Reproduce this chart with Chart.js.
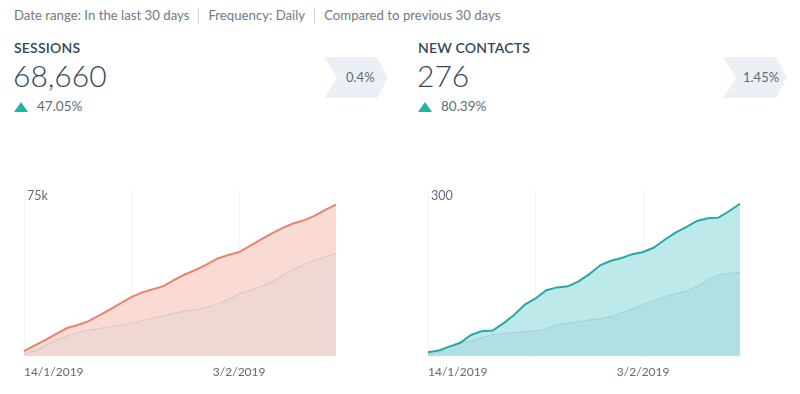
<!DOCTYPE html>
<html>
<head>
<meta charset="utf-8">
<script src="https://cdn.jsdelivr.net/npm/chart.js@4.4.1/dist/chart.umd.min.js"></script>
<style>
    html, body { margin: 0; padding: 0; background: #fff; }
    body { width: 800px; height: 394px; position: relative; overflow: hidden; font-family: Lato, "Open Sans", sans-serif; }
    .filters { position: absolute; left: 14px; top: 7px; font-size: 13.2px; color: #6f7b87; white-space: nowrap; }
    .filters .sep { display: inline-block; width: 1px; height: 16px; background: #cbd6e2; vertical-align: -4px; margin: 0 9px; }
    .title { position: absolute; font-size: 14px; font-weight: 600; color: #33475b; letter-spacing: 0.2px; }
    .big { position: absolute; font-size: 30px; font-weight: 300; color: #33475b; }
    .up { position: absolute; width: 0; height: 0; border-left: 7px solid transparent; border-right: 7px solid transparent; border-bottom: 10px solid #1eb6a0; }
    .pct { position: absolute; font-size: 13.5px; color: #5f6b77; }
    .chev { position: absolute; height: 41px; background: #eaf0f6; font-size: 13px; color: #5f6b77;
            clip-path: polygon(0 0, 53px 0, 64px 50%, 53px 100%, 0 100%, 13px 50%); }
    .chev span { position: absolute; top: 12px; }
    .chartbox { position: absolute; width: 400px; height: 207px; }
</style>
</head>
<body>

<div class="filters">Date range: In the last 30 days<span class="sep"></span>Frequency: Daily<span class="sep"></span>Compared to previous 30 days</div>

<div class="title" style="left:14px; top:39px;">SESSIONS</div>
<div class="big" style="left:13px; top:57px;">68,660</div>
<div class="up" style="left:14px; top:102px;"></div>
<div class="pct" style="left:37px; top:98px;">47.05%</div>
<div class="chev" style="left:324px; top:57px; width:64px;"><span style="left:22px;">0.4%</span></div>

<div class="title" style="left:418px; top:39px;">NEW CONTACTS</div>
<div class="big" style="left:417px; top:57px;">276</div>
<div class="up" style="left:418px; top:102px;"></div>
<div class="pct" style="left:441px; top:98px;">80.39%</div>
<div class="chev" style="left:723px; top:57px; width:77px;"><span style="left:20px;">1.45%</span></div>

<div class="chartbox" style="left:0; top:180px;"><canvas id="sessionsChart"></canvas></div>
<div class="chartbox" style="left:404px; top:180px;"><canvas id="contactsChart"></canvas></div>

<script>
// ---------------- DATA ----------------
const days = [
    "14/1/2019", "15/1/2019", "16/1/2019", "17/1/2019", "18/1/2019", "19/1/2019",
    "20/1/2019", "21/1/2019", "22/1/2019", "23/1/2019", "24/1/2019", "25/1/2019",
    "26/1/2019", "27/1/2019", "28/1/2019", "29/1/2019", "30/1/2019", "31/1/2019",
    "1/2/2019", "2/2/2019", "3/2/2019", "4/2/2019", "5/2/2019", "6/2/2019",
    "7/2/2019", "8/2/2019", "9/2/2019", "10/2/2019", "11/2/2019", "12/2/2019"
];
const shownDays = ["14/1/2019", "3/2/2019"];
const gridDays = ["14/1/2019", "24/1/2019", "3/2/2019"];

const sessionsCurrent = [
    2450, 5100, 7500, 10300, 12900, 14300, 16000, 18600, 21300, 24100,
    27000, 29000, 30400, 31900, 34700, 37200, 39300, 41600, 44300, 45900,
    47200, 50000, 52800, 55500, 58000, 60100, 61500, 63500, 66300, 68660
];
const sessionsPrevious = [
    1500, 2600, 5200, 7500, 9500, 11000, 12100, 12900, 13600, 14400,
    15200, 16300, 17500, 18700, 19800, 20800, 21300, 22400, 23900, 26200,
    28500, 30100, 31600, 34000, 36700, 39300, 41700, 43900, 45100, 46690
];
const sessionsMax = 75000;
const sessionsMaxLabel = "75k";

const contactsCurrent = [
    8, 11, 18, 25, 39, 46, 47, 60, 75, 94,
    105, 120, 125, 127, 136, 149, 165, 173, 178, 185,
    189, 197, 211, 224, 234, 245, 250, 251, 263, 276
];
const contactsPrevious = [
    5, 8, 19, 24, 29, 35, 40, 42, 44, 46,
    47, 51, 58, 61, 64, 67, 69, 73, 80, 87,
    94, 102, 109, 114, 119, 127, 140, 148, 151, 153
];
const contactsMax = 300;
const contactsMaxLabel = "300";

// ---------------- CHART ----------------
function makeChart(id, current, previous, yMax, yMaxLabel, colors) {
    return new Chart(document.getElementById(id), {
        type: "line",
        data: {
            labels: days,
            datasets: [
                {
                    label: "Current",
                    data: current,
                    borderColor: colors.line,
                    borderWidth: 2,
                    backgroundColor: colors.fill,
                    fill: { target: 1, above: colors.fill, below: colors.prevFill },
                    pointRadius: 0,
                    tension: 0,
                    order: 0
                },
                {
                    label: "Previous",
                    data: previous,
                    borderColor: colors.prevLine,
                    borderWidth: 1.5,
                    backgroundColor: colors.prevFill,
                    fill: "origin",
                    pointRadius: 0,
                    tension: 0,
                    order: 1
                }
            ]
        },
        options: {
            responsive: false,
            animation: false,
            layout: { padding: { left: 18, right: 64, top: 4, bottom: 0 } },
            plugins: {
                legend: { display: false },
                tooltip: { enabled: false }
            },
            scales: {
                x: {
                    border: { display: false },
                    grid: {
                        drawTicks: false,
                        color: ctx => gridDays.includes(days[ctx.index]) ? "#f2f4f7" : "rgba(0,0,0,0)"
                    },
                    ticks: {
                        autoSkip: false,
                        maxRotation: 0,
                        align: "inner",
                        padding: 8,
                        color: "#5f6b77",
                        font: { family: "Lato", size: 12 },
                        callback: (v, i) => shownDays.includes(days[i]) ? days[i] : ""
                    }
                },
                y: {
                    min: 0,
                    max: yMax,
                    border: { display: false },
                    grid: { display: false, drawTicks: false },
                    ticks: {
                        mirror: true,
                        padding: 3,
                        stepSize: yMax,
                        labelOffset: 5,
                        color: "#5f6b77",
                        font: { family: "Lato", size: 12.5 },
                        callback: v => v === yMax ? yMaxLabel : ""
                    }
                }
            }
        }
    });
}

document.getElementById("sessionsChart").width = 400;
document.getElementById("sessionsChart").height = 207;
document.getElementById("contactsChart").width = 400;
document.getElementById("contactsChart").height = 207;

makeChart("sessionsChart", sessionsCurrent, sessionsPrevious, sessionsMax, sessionsMaxLabel, {
    line: "#e9836c", fill: "#f9dbd3", prevLine: "#d6c2c6", prevFill: "#efd7d4"
});
makeChart("contactsChart", contactsCurrent, contactsPrevious, contactsMax, contactsMaxLabel, {
    line: "#27a8a8", fill: "#bee9ea", prevLine: "#9ccfd7", prevFill: "#b2dfe4"
});
</script>
</body>
</html>
